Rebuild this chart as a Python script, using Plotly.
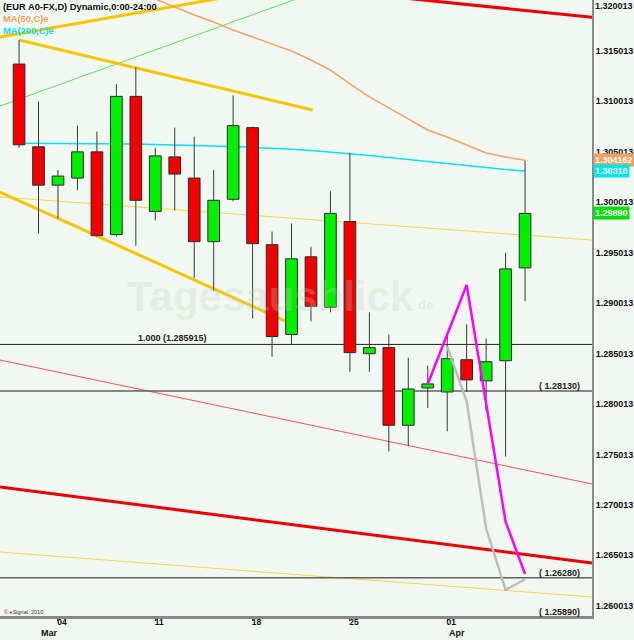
import plotly.graph_objects as go

# ---------------- data ----------------
dates = ["2010-03-02", "2010-03-03", "2010-03-04", "2010-03-05",
         "2010-03-08", "2010-03-09", "2010-03-10", "2010-03-11", "2010-03-12",
         "2010-03-15", "2010-03-16", "2010-03-17", "2010-03-18", "2010-03-19",
         "2010-03-22", "2010-03-23", "2010-03-24", "2010-03-25", "2010-03-26",
         "2010-03-29", "2010-03-30", "2010-03-31", "2010-04-01", "2010-04-02",
         "2010-04-05", "2010-04-06", "2010-04-07"]
open_ = [1.3137, 1.3055, 1.3017, 1.3024, 1.3050, 1.2968, 1.3105, 1.2991, 1.3045,
         1.3024, 1.2961, 1.3003, 1.3074, 1.2958, 1.2869, 1.2946, 1.2896, 1.2981,
         1.2850, 1.2856, 1.2779, 1.2816, 1.2812, 1.2844, 1.2823, 1.2843, 1.2935]
high = [1.3161, 1.3100, 1.3032, 1.3076, 1.3070, 1.3117, 1.3134, 1.3054, 1.3074,
        1.3065, 1.3032, 1.3106, 1.3075, 1.2971, 1.2979, 1.2956, 1.3011, 1.3049,
        1.2891, 1.2869, 1.2846, 1.2838, 1.2870, 1.2879, 1.2865, 1.2950, 1.3041]
low = [1.3054, 1.2969, 1.2984, 1.3012, 1.2966, 1.2966, 1.2957, 1.2982, 1.2992,
       1.2925, 1.2912, 1.3001, 1.2885, 1.2847, 1.2859, 1.2882, 1.2891, 1.2832,
       1.2832, 1.2753, 1.2758, 1.2796, 1.2773, 1.2812, 1.2793, 1.2748, 1.2902]
close = [1.3057, 1.3017, 1.3026, 1.3050, 1.2967, 1.3105, 1.3002, 1.3046, 1.3028,
         1.2961, 1.3002, 1.3076, 1.2959, 1.2867, 1.2944, 1.2897, 1.2989, 1.2851,
         1.2856, 1.2779, 1.2815, 1.2820, 1.2845, 1.2824, 1.2842, 1.2934, 1.2989]

ma50 = [None, None, None, None, None, None, 1.32094, 1.32015, 1.31936, 1.31856,
        1.31787, 1.31708, 1.31638, 1.31569, 1.31500, 1.31410, 1.31311, 1.31173,
        1.31044, 1.30935, 1.30826, 1.30717, 1.30647, 1.30568, 1.30489, 1.30449,
        1.304162]
ma200 = [1.30585, 1.30585, 1.30584, 1.30584, 1.30583, 1.30581, 1.30578, 1.30573,
         1.30570, 1.30565, 1.30558, 1.30553, 1.30546, 1.30536, 1.30525, 1.30514,
         1.30499, 1.30484, 1.30464, 1.30444, 1.30424, 1.30402, 1.30382, 1.30362,
         1.30342, 1.30325, 1.30310]

tick_dates = ["2010-03-04", "2010-03-11", "2010-03-18", "2010-03-25", "2010-04-01"]
month_labels = [("Mar", "2010-03-03"), ("Apr", "2010-04-01")]
price_ticks = [1.260013, 1.265013, 1.270013, 1.275013, 1.280013, 1.285013, 1.290013,
               1.295013, 1.300013, 1.305013, 1.310013, 1.315013]
price_tick_top = 1.320013   # drawn clamped just inside the top edge

# drawn trend lines: (x as bar index, price)
trend_red_top_x, trend_red_top_y = [20.0, 29.44], [1.32020, 1.31834]
trend_red_low_x, trend_red_low_y = [-0.98, 29.44], [1.27178, 1.26425]
trend_red_thin_x, trend_red_thin_y = [-0.98, 29.44], [1.28437, 1.27208]
trend_yel_thin_up_x, trend_yel_thin_up_y = [-0.98, 29.44], [1.30053, 1.29626]
trend_yel_thin_low_x, trend_yel_thin_low_y = [-0.98, 29.44], [1.26534, 1.26088]
trend_yel_a_x, trend_yel_a_y = [-0.98, 14.46], [1.31638, 1.32163]
trend_yel_b_x, trend_yel_b_y = [0.0, 15.08], [1.31609, 1.30915]
trend_yel_c_x, trend_yel_c_y = [-0.98, 13.74], [1.30102, 1.28817]
trend_green_x, trend_green_y = [-0.98, 15.0], [1.30954, 1.32068]

proj_magenta_x, proj_magenta_y = [21, 23, 25, 26], [1.2820, 1.2918, 1.26835, 1.26316]
proj_gray_x, proj_gray_y = [22, 23, 24, 25, 26], [1.28569, 1.28024, 1.26769, 1.26158, 1.26264]

fib_level = 1.285915
levels = [1.28130, 1.26280, 1.25890]

# ---------------- figure ----------------
idx = list(range(len(dates)))
X_RANGE = [-0.98, 29.44]
Y_RANGE = [1.2589, 1.32005]
BG = "#F1F8F1"
FONT = "Liberation Sans"

fig = go.Figure()

def line(x, y, color, width, dash=None):
    fig.add_trace(go.Scatter(x=x, y=y, mode="lines", hoverinfo="skip",
                             line=dict(color=color, width=width, dash=dash),
                             showlegend=False))

# background lines (below candles)
line(trend_yel_thin_up_x, trend_yel_thin_up_y, "#F2D54A", 1)
line(trend_yel_thin_low_x, trend_yel_thin_low_y, "#F2D54A", 1)
line(trend_red_thin_x, trend_red_thin_y, "#FF5050", 1)
line(trend_green_x, trend_green_y, "#50E850", 1)
line(trend_yel_a_x, trend_yel_a_y, "#F8C400", 3)
line(trend_yel_b_x, trend_yel_b_y, "#F8C400", 3)
line(trend_yel_c_x, trend_yel_c_y, "#F8C400", 3)
line(trend_red_top_x, trend_red_top_y, "#EE0000", 3)
line(trend_red_low_x, trend_red_low_y, "#EE0000", 3)
line(idx, ma50, "#F4A060", 1.5)
line(idx, ma200, "#00E4F0", 1.5)
line(X_RANGE, [fib_level, fib_level], "#202020", 1)
for lv in levels:
    line(X_RANGE, [lv, lv], "#606060", 1.5)

# candles on overlay axes (drawn above the lines)
wx, wy = [], []
for i in idx:
    top = max(open_[i], close[i])
    bot = min(open_[i], close[i])
    wx += [i, i, None, i, i, None]
    wy += [high[i], top, None, bot, low[i], None]
fig.add_trace(go.Scatter(x=wx, y=wy, mode="lines", xaxis="x2", yaxis="y2",
                         line=dict(color="#383838", width=1), hoverinfo="skip",
                         showlegend=False))
fig.add_trace(go.Bar(
    x=idx, y=[abs(c - o) for o, c in zip(open_, close)],
    base=[min(o, c) for o, c in zip(open_, close)],
    width=0.6, xaxis="x2", yaxis="y2",
    marker=dict(color=["#00F000" if c >= o else "#F00000" for o, c in zip(open_, close)],
                line=dict(color="#2A2A2A", width=1)),
    showlegend=False))

# projections on top
fig.add_trace(go.Scatter(x=proj_gray_x, y=proj_gray_y, mode="lines", xaxis="x2", yaxis="y2",
                         line=dict(color="#BDBDBD", width=2.5), showlegend=False))
fig.add_trace(go.Scatter(x=proj_magenta_x, y=proj_magenta_y, mode="lines", xaxis="x2", yaxis="y2",
                         line=dict(color="#FF00FF", width=2.5), showlegend=False))

tick_idx = [dates.index(d) for d in tick_dates]
tick_txt = [d[-2:] for d in tick_dates]

ann = []
# top-left legend texts
ann.append(dict(text="(EUR A0-FX,D) Dynamic,0:00-24:00", xref="paper", yref="paper",
                x=0.002, y=1 - 6.5 / 617, xanchor="left", yanchor="middle", showarrow=False,
                font=dict(family=FONT, size=9.3, color="#111111", weight="bold")))
ann.append(dict(text="MA(50,C)e", xref="paper", yref="paper",
                x=0.002, y=1 - 18.5 / 617, xanchor="left", yanchor="middle", showarrow=False,
                font=dict(family=FONT, size=9.3, color="#F0A060", weight="bold")))
ann.append(dict(text="MA(200,C)e", xref="paper", yref="paper",
                x=0.002, y=1 - 31 / 617, xanchor="left", yanchor="middle", showarrow=False,
                font=dict(family=FONT, size=9.3, color="#00E0F0", weight="bold")))
# watermark
ann.append(dict(text="Tagesausblick", xref="paper", yref="paper", x=270 / 592, y=1 - 296 / 617,
                xanchor="center", yanchor="middle", showarrow=False,
                font=dict(family=FONT, size=42, color="rgba(195,208,195,0.28)", weight="bold")))
ann.append(dict(text="de", xref="paper", yref="paper", x=425 / 592, y=1 - 304 / 617,
                xanchor="center", yanchor="middle", showarrow=False,
                font=dict(family=FONT, size=13, color="rgba(195,208,195,0.35)", weight="bold")))
# level labels
ann.append(dict(text="1.000 (%.6f)" % fib_level, x=7.9, y=fib_level, xanchor="center",
                yanchor="bottom", showarrow=False, yshift=-1,
                font=dict(family=FONT, size=9, color="#222222", weight="bold")))
for lv in levels:
    ann.append(dict(text="( %.5f)" % lv, x=28.95, y=lv, xanchor="right", yanchor="bottom",
                    showarrow=False, yshift=-2,
                    font=dict(family=FONT, size=9, color="#222222", weight="bold")))
# top price-scale label (clamped inside the chart, as in the original)
ann.append(dict(text="%.6f" % price_tick_top, xref="paper", x=1.0, y=price_tick_top,
                xanchor="left", yanchor="top", showarrow=False, xshift=1, yshift=1,
                font=dict(family=FONT, size=9, color="#111111", weight="bold")))
# right-side value boxes
for val, txt, col in [(ma50[-1], "%.6f" % ma50[-1], "#F0A060"),
                      (ma200[-1], "%.5f" % ma200[-1], "#00E4F0"),
                      (close[-1], "%.5f" % close[-1], "#00E000")]:
    ann.append(dict(text=txt, xref="paper", x=1.0, y=val, xanchor="left", yanchor="middle",
                    showarrow=False, bgcolor=col, borderpad=1, xshift=1,
                    font=dict(family=FONT, size=9, color="white", weight="bold")))
# month labels
for m, d in month_labels:
    ann.append(dict(text=m, x=dates.index(d), xref="x", yref="paper", y=-16 / 617,
                    xanchor="left", yanchor="middle", showarrow=False,
                    font=dict(family=FONT, size=9, color="#111111", weight="bold")))
ann.append(dict(text="© eSignal, 2010", xref="paper", yref="paper", x=0.003, y=5.5 / 617,
                xanchor="left", yanchor="middle", showarrow=False,
                font=dict(family=FONT, size=5.5, color="#333333")))

fig.update_layout(
    width=634, height=640,
    margin=dict(l=0, r=42, t=0, b=23, autoexpand=False),
    paper_bgcolor=BG, plot_bgcolor=BG,
    showlegend=False,
    xaxis=dict(range=X_RANGE, tickvals=tick_idx, ticktext=tick_txt, showgrid=False,
               zeroline=False, showline=True, linecolor="#8A8A8A", linewidth=2,
               ticks="outside", ticklen=2, tickcolor="#333333", ticklabelshift=4,
               ticklabelstandoff=-6,
               tickfont=dict(family=FONT, size=8.5, color="#111111", weight="bold")),
    yaxis=dict(range=Y_RANGE, side="right", tickvals=price_ticks,
               ticktext=["%.6f" % t for t in price_ticks], showgrid=False, zeroline=False,
               showline=True, linecolor="#8A8A8A", linewidth=2, ticks="",
               tickfont=dict(family=FONT, size=9, color="#111111", weight="bold")),
    xaxis2=dict(range=X_RANGE, overlaying="x", visible=False),
    yaxis2=dict(range=Y_RANGE, overlaying="y", visible=False),
    annotations=ann,
)

fig.write_html("out.html", config={"displayModeBar": False},
               post_script="document.body.style.margin='0px';document.body.style.background='%s';" % BG)
